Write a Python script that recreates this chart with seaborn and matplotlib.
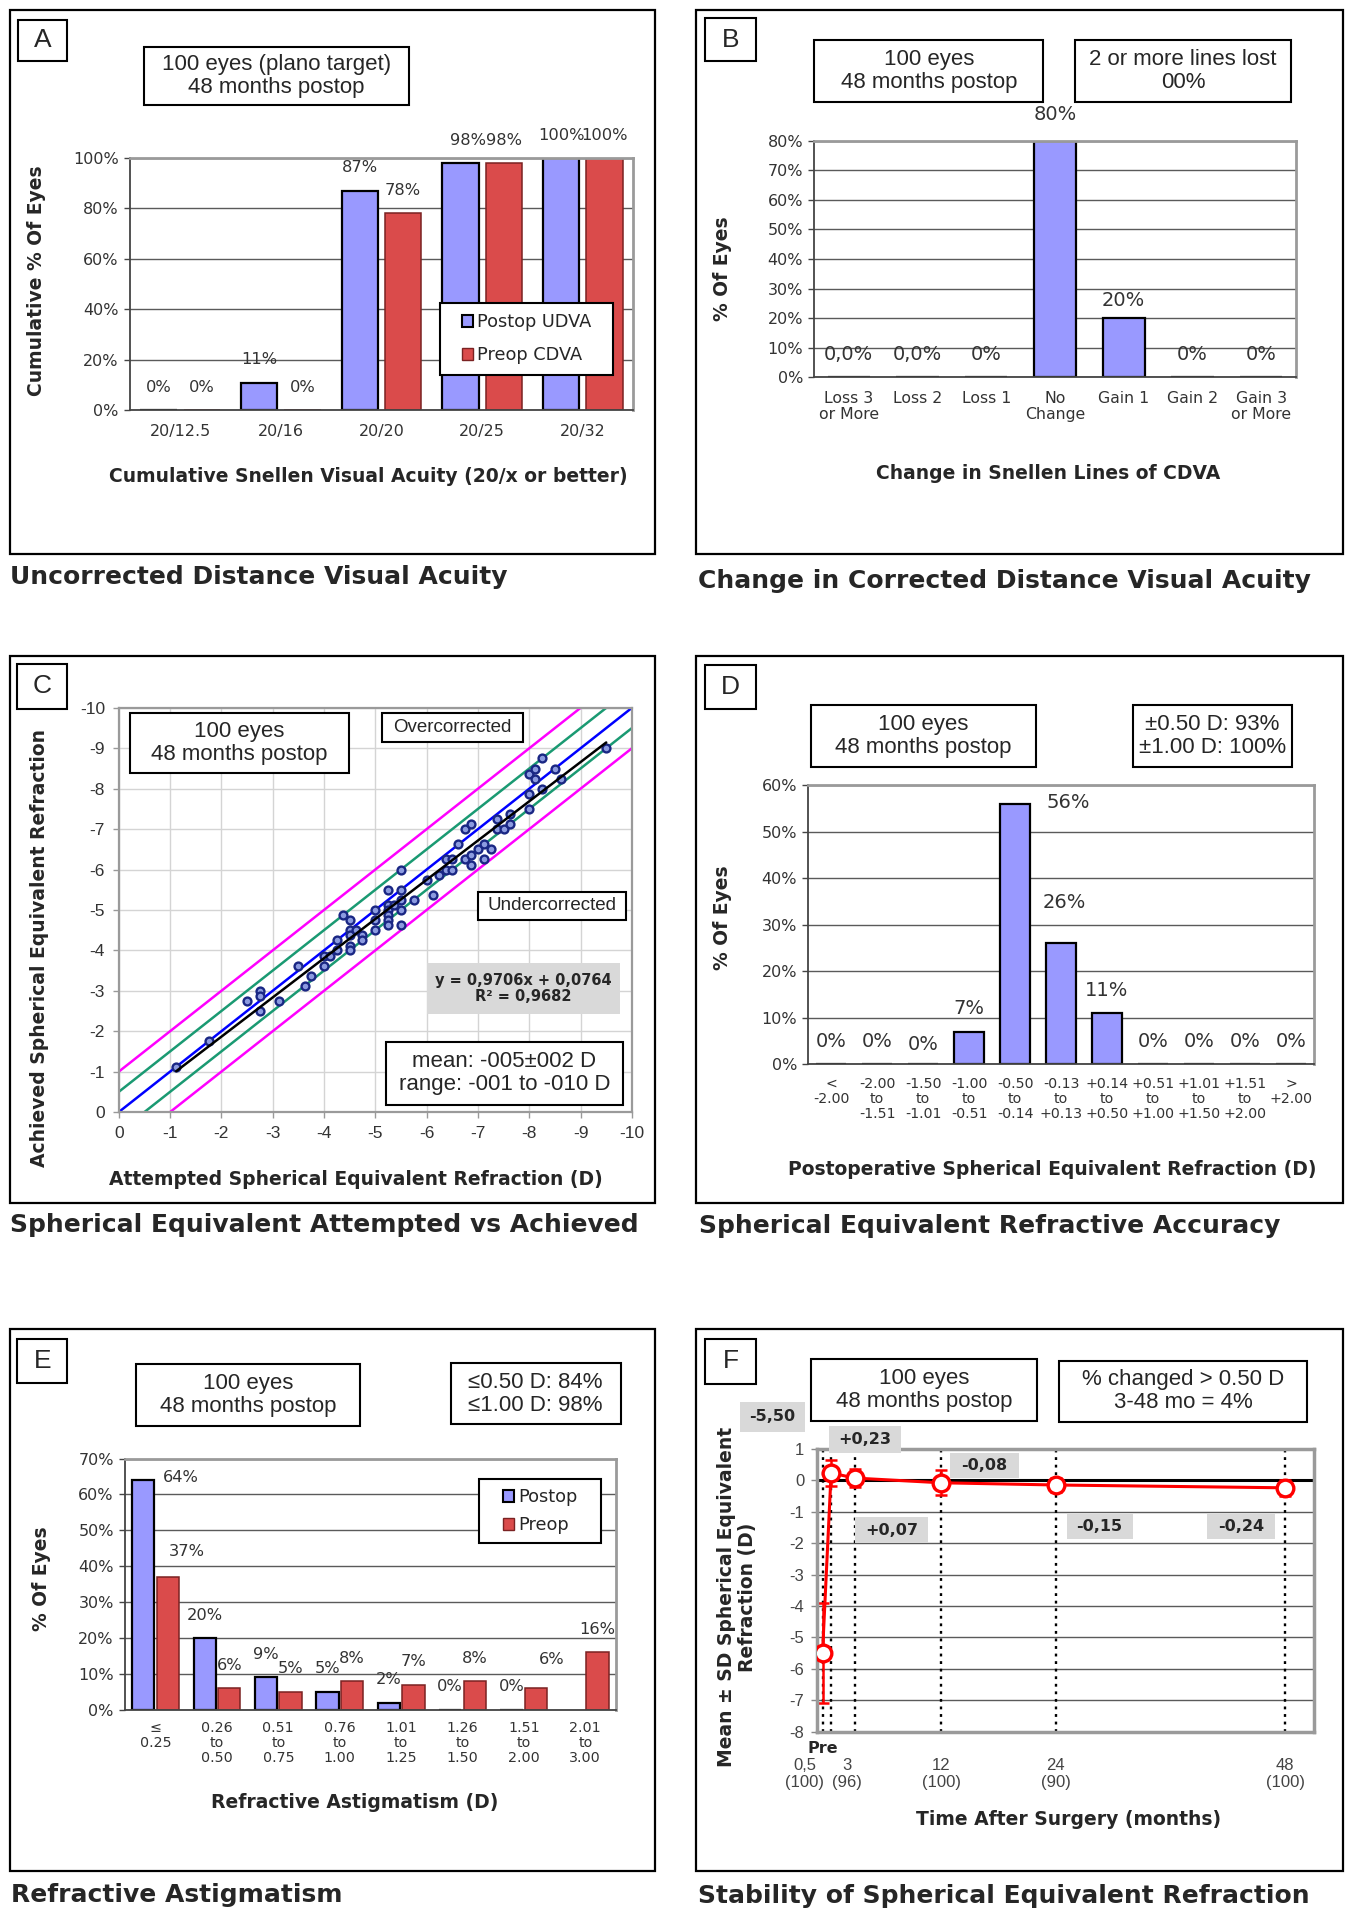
# -*- coding: utf-8 -*-
import numpy as np
import pandas as pd
import matplotlib
matplotlib.use('Agg')
import matplotlib.pyplot as plt
import matplotlib.transforms as mtransforms
from matplotlib.patches import Rectangle, Patch
import seaborn as sns
import warnings

warnings.filterwarnings('ignore')

# ===================== data =====================
# A - cumulative Snellen visual acuity
a_cats = ['20/12.5', '20/16', '20/20', '20/25', '20/32']
a_series = ['Postop UDVA', 'Preop CDVA']
a_postop = [0, 11, 87, 98, 100]
a_preop = [0, 0, 78, 98, 100]

# B - change in Snellen lines of CDVA
b_cats = ['Loss 3\nor More', 'Loss 2', 'Loss 1', 'No\nChange', 'Gain 1', 'Gain 2', 'Gain 3\nor More']
b_vals = [0, 0, 0, 80, 20, 0, 0]
b_texts = ['0,0%', '0,0%', '0%', '80%', '20%', '0%', '0%']

# C - attempted vs achieved spherical equivalent (D)
c_attempted = [-1.12, -1.75, -2.5, -2.75, -2.75, -2.75, -3.12, -3.5, -3.62, -3.75,
               -4.0, -4.0, -4.12, -4.25, -4.25, -4.37, -4.5, -4.5, -4.5, -4.5,
               -4.5, -4.62, -4.75, -4.75, -5.0, -5.0, -5.0, -5.25, -5.25, -5.25,
               -5.25, -5.25, -5.25, -5.37, -5.5, -5.5, -5.5, -5.5, -5.5, -5.75,
               -6.0, -6.12, -6.25, -6.37, -6.37, -6.5, -6.5, -6.62, -6.75, -6.75,
               -6.87, -6.87, -6.87, -7.0, -7.12, -7.12, -7.25, -7.37, -7.37, -7.5,
               -7.62, -7.62, -8.0, -8.0, -8.0, -8.12, -8.12, -8.25, -8.25, -8.5,
               -8.62, -9.5]
c_achieved = [-1.12, -1.75, -2.75, -3.0, -2.87, -2.5, -2.75, -3.62, -3.12, -3.37,
              -3.87, -3.62, -3.87, -4.25, -4.0, -4.87, -4.75, -4.5, -4.37, -4.12,
              -4.0, -4.5, -4.37, -4.25, -5.0, -4.75, -4.5, -5.5, -5.12, -5.0,
              -4.87, -4.75, -4.62, -5.12, -6.0, -5.5, -5.25, -5.0, -4.62, -5.25,
              -5.75, -5.37, -5.87, -6.0, -6.25, -6.0, -6.25, -6.62, -7.0, -6.25,
              -7.12, -6.37, -6.12, -6.5, -6.62, -6.25, -6.5, -7.25, -7.0, -7.0,
              -7.37, -7.12, -8.37, -7.87, -7.5, -8.5, -8.25, -8.75, -8.0, -8.5,
              -8.25, -9.0]
c_slope, c_intercept, c_r2 = 0.9706, 0.0764, 0.9682
c_bands = [-1.0, -0.5, 0.0, 0.5, 1.0]

# D - postoperative spherical equivalent refraction
d_cats = ['<\n-2.00', '-2.00\nto\n-1.51', '-1.50\nto\n-1.01', '-1.00\nto\n-0.51',
          '-0.50\nto\n-0.14', '-0.13\nto\n+0.13', '+0.14\nto\n+0.50', '+0.51\nto\n+1.00',
          '+1.01\nto\n+1.50', '+1.51\nto\n+2.00', '>\n+2.00']
d_vals = [0, 0, 0, 7, 56, 26, 11, 0, 0, 0, 0]

# E - refractive astigmatism
e_cats = ['\u2264\n0.25', '0.26\nto\n0.50', '0.51\nto\n0.75', '0.76\nto\n1.00',
          '1.01\nto\n1.25', '1.26\nto\n1.50', '1.51\nto\n2.00', '2.01\nto\n3.00']
e_series = ['Postop', 'Preop']
e_postop = [64, 20, 9, 5, 2, 0, 0, np.nan]
e_preop = [37, 6, 5, 8, 7, 8, 6, 16]

# F - stability of spherical equivalent refraction
f_time = [-0.4, 0.5, 3, 12, 24, 48]
f_mean = [-5.50, 0.23, 0.07, -0.08, -0.15, -0.24]
f_sd = [1.60, 0.40, 0.30, 0.40, 0.22, 0.25]
f_ticks = [0.5, 3, 12, 24, 48]
f_ticklabels = ['0,5\n(100)', '3\n(96)', '12\n(100)', '24\n(90)', '48\n(100)']

# ===================== style =====================
sns.set_style('white')
plt.rcParams['font.family'] = ['DejaVu Sans']
plt.rcParams['axes.unicode_minus'] = False
ARIAL = ['Liberation Sans', 'DejaVu Sans']

BLUE = '#9999FF'
RED = '#DA4B4B'
RED_EC = '#7A2222'
TXT = '#333333'

fig = plt.figure(figsize=(13.47, 19.13), dpi=100)
W, H = 1100.0, 1562.0   # layout grid (scaled reference units)


def fxy(x, y):
    return x / W, 1 - y / H


def add_ax(x0, y0, x1, y1):
    return fig.add_axes([x0 / W, 1 - y1 / H, (x1 - x0) / W, (y1 - y0) / H])


def box(x0, y0, x1, y1, text=None, fs=16, family=ARIAL, weight='normal',
        fc='white', ec='black', lw=1.5, ls=1.12):
    fig.add_artist(Rectangle((x0 / W, 1 - y1 / H), (x1 - x0) / W, (y1 - y0) / H,
                             transform=fig.transFigure, facecolor=fc, edgecolor=ec,
                             linewidth=lw, zorder=2))
    if text is not None:
        fig.text((x0 + x1) / 2 / W, 1 - (y0 + y1) / 2 / H, text, ha='center', va='center',
                 fontsize=fs, family=family, fontweight=weight, linespacing=ls, zorder=3)


def label(x, y, s, fs=13.5, rot=0, ha='center', ls=1.15):
    fig.text(x / W, 1 - y / H, s, ha=ha, va='center', rotation=rot, fontsize=fs,
             fontweight='bold', linespacing=ls, zorder=3)


def panel(rect, letter, lrect, title, txy):
    box(*rect, fc='none', lw=1.6)
    box(*lrect, text=letter, fs=19)
    label(txy[0], txy[1], title, fs=18, ha='left')


def style_bar_ax(ax, cats, ymax, ystep, xfs, xpad):
    n = len(cats)
    ax.set_xlim(-0.5, n - 0.5)
    ax.set_ylim(0, ymax)
    yt = list(range(0, ymax + 1, ystep))
    ax.set_yticks(yt, labels=[f'{t}%' for t in yt], fontsize=11.5, color=TXT)
    ax.set_xticks(range(n), labels=cats, fontsize=xfs, color=TXT, linespacing=1.1)
    ax.set_xticks(np.arange(n + 1) - 0.5, minor=True)
    ax.tick_params(axis='x', which='major', length=0, pad=xpad)
    ax.tick_params(axis='x', which='minor', length=5, width=1, color='#444', direction='out')
    ax.tick_params(axis='y', length=4, width=1, color='#444', pad=4, left=True)
    ax.yaxis.grid(True, color='#5A5A5A', lw=1)
    ax.set_axisbelow(True)
    for s in ['left', 'bottom']:
        ax.spines[s].set_color('#444')
        ax.spines[s].set_linewidth(1.3)
    for s in ['top', 'right']:
        ax.spines[s].set_color('#9A9A9A')
        ax.spines[s].set_linewidth(2)
    ax.set_xlabel('')
    ax.set_ylabel('')


def bar_values(ax, container, texts, offsets=None, fs=11.7):
    offsets = offsets or {}
    for i, (p, t) in enumerate(zip(container, texts)):
        h = p.get_height()
        if t is None or np.isnan(h):
            continue
        dx, dy = offsets.get(i, (0, 16.5))
        ax.annotate(t, (p.get_x() + p.get_width() / 2, h), xytext=(dx, dy),
                    textcoords='offset points', ha='center', va='center',
                    fontsize=fs, color=TXT, annotation_clip=False, zorder=4)


def pct(vals):
    return [None if np.isnan(v) else f'{v:.0f}%' for v in np.asarray(vals, float)]


# ===================== A =====================
panel((8, 8, 535, 452), 'A', (15, 16, 55, 50), 'Uncorrected Distance Visual Acuity', (8, 471))
box(118, 38, 334, 86, '100 eyes (plano target)\n48 months postop')
ax = add_ax(106, 129, 517, 335)
df_a = pd.DataFrame({'acuity': a_cats * 2, 'pct': a_postop + a_preop,
                     'series': [a_series[0]] * len(a_cats) + [a_series[1]] * len(a_cats)})
sns.barplot(data=df_a, x='acuity', y='pct', hue='series', palette=[BLUE, RED], saturation=1,
            width=0.86, gap=0.16, errorbar=None, legend=False, ax=ax, zorder=2)
for cont, ec, lw in zip(ax.containers, ['black', RED_EC], [1.6, 1.1]):
    for p in cont:
        p.set_edgecolor(ec)
        p.set_linewidth(lw)
style_bar_ax(ax, a_cats, 100, 20, 11.5, 10)
bar_values(ax, ax.containers[0], pct(a_postop), {3: (5.5, 16.5)})
bar_values(ax, ax.containers[1], pct(a_preop))
box(359, 247, 501, 306)
fig.legend(handles=[Patch(facecolor=BLUE, edgecolor='black', lw=1.5),
                    Patch(facecolor=RED, edgecolor=RED_EC, lw=1)],
           labels=a_series, loc='center', bbox_to_anchor=fxy(430, 276.5), frameon=False,
           fontsize=12.8, handlelength=0.65, handleheight=0.65, handletextpad=0.2,
           labelspacing=0.85)
label(301, 389, 'Cumulative Snellen Visual Acuity (20/x or better)')
label(30, 229, 'Cumulative % Of Eyes', rot=90)

# ===================== B =====================
panel((568, 8, 1097, 452), 'B', (576, 15, 617, 50), 'Change in Corrected Distance Visual Acuity', (570, 474))
box(665, 33, 852, 83, '100 eyes\n48 months postop')
box(878, 33, 1054, 83, '2 or more lines lost\n00%')
ax = add_ax(665, 115, 1058, 308)
sns.barplot(x=b_cats, y=b_vals, color=BLUE, saturation=1, width=0.615, errorbar=None,
            ax=ax, zorder=2, edgecolor='black', linewidth=1.6)
style_bar_ax(ax, b_cats, 80, 10, 11.3, 10)
bar_values(ax, ax.containers[0], b_texts, {3: (0, 19), 4: (0, 13)}, fs=14)
label(856, 387, 'Change in Snellen Lines of CDVA')
label(590, 219, '% Of Eyes', rot=90)

# ===================== C =====================
panel((8, 536, 535, 982), 'C', (14, 542, 55, 579), 'Spherical Equivalent Attempted vs Achieved', (8, 1000))
ax = add_ax(97, 578, 516, 908)
band_col = {1.0: '#FF00FF', 0.5: '#1A9A72', 0.0: '#0000FF'}
xs = np.array([1.0, -11.0])
for k in c_bands:
    ax.plot(xs, xs + k, color=band_col[abs(k)], lw=1.8, zorder=2)
sns.scatterplot(x=c_attempted, y=c_achieved, color='#8C9BE0', edgecolor='#1A2784',
                linewidth=1.7, s=32, zorder=3, ax=ax, legend=False)
fit_x = np.array([max(c_attempted), min(c_attempted)])
ax.plot(fit_x, c_slope * fit_x + c_intercept, color='black', lw=1.8, zorder=4)
ax.set_xlim(0, -10)
ax.set_ylim(0, -10)
ct = list(range(0, -11, -1))
ax.set_xticks(ct, labels=[str(t) for t in ct], family=ARIAL, fontsize=12.5, color=TXT)
ax.set_yticks(ct, labels=[str(t) for t in ct], family=ARIAL, fontsize=12.5, color=TXT)
ax.tick_params(length=4, width=1, color='#999', pad=6, left=True, bottom=True)
ax.grid(True, color='#D4D4D4', lw=1)
ax.set_axisbelow(True)
for s in ax.spines.values():
    s.set_color('#9A9A9A')
    s.set_linewidth(1.6)
box(106, 582, 285, 631, '100 eyes\n48 months postop')
box(312, 582, 427, 606, 'Overcorrected', fs=13.5)
box(390, 728, 511, 751, 'Undercorrected', fs=13.5)
box(349, 786, 506, 828, (f'y = {c_slope}x + {c_intercept}\nR\u00b2 = {c_r2}').replace('.', ','),
    fs=10.5, family=['DejaVu Sans'], weight='bold', fc='#D9D9D9', ec='none')
box(315, 851, 509, 902, 'mean: -005\u00b1002 D\nrange: -001 to -010 D')
label(291, 963, 'Attempted Spherical Equivalent Refraction (D)')
label(32, 774, 'Achieved Spherical Equivalent Refraction', rot=90)

# ===================== D =====================
panel((568, 536, 1097, 982), 'D', (576, 543, 617, 579), 'Spherical Equivalent Refractive Accuracy', (571, 1001))
box(662, 576, 846, 626, '100 eyes\n48 months postop')
box(925, 576, 1055, 626, '\u00b10.50 D: 93%\n\u00b11.00 D: 100%')
ax = add_ax(660, 641, 1073, 869)
sns.barplot(x=d_cats, y=d_vals, color=BLUE, saturation=1, width=0.65, errorbar=None,
            ax=ax, zorder=2, edgecolor='black', linewidth=1.6)
style_bar_ax(ax, d_cats, 60, 10, 10.2, 9)
bar_values(ax, ax.containers[0], pct(d_vals), {2: (0, 14.3), 4: (38, 1), 5: (2, 29)}, fs=14)
label(859, 955, 'Postoperative Spherical Equivalent Refraction (D)')
label(590, 749, '% Of Eyes', rot=90)

# ===================== E =====================
panel((8, 1085, 535, 1528), 'E', (14, 1093, 55, 1129), 'Refractive Astigmatism', (9, 1547))
box(111, 1114, 294, 1164, '100 eyes\n48 months postop')
box(368, 1113, 507, 1163, '\u22640.50 D: 84%\n\u22641.00 D: 98%')
ax = add_ax(102, 1191, 503, 1396)
df_e = pd.DataFrame({'range': e_cats * 2, 'pct': e_postop + e_preop,
                     'series': [e_series[0]] * len(e_cats) + [e_series[1]] * len(e_cats)})
sns.barplot(data=df_e, x='range', y='pct', hue='series', palette=[BLUE, RED], saturation=1,
            width=0.8, gap=0.09, errorbar=None, legend=False, ax=ax, zorder=2)
for cont, ec, lw in zip(ax.containers, ['black', RED_EC], [1.6, 1.1]):
    for p in cont:
        p.set_edgecolor(ec)
        p.set_linewidth(lw)
style_bar_ax(ax, e_cats, 70, 10, 10.3, 8)
bar_values(ax, ax.containers[0], pct(e_postop), {0: (27, 2)})
bar_values(ax, ax.containers[1], pct(e_preop), {0: (13.5, 18.5), 6: (11, 21)})
box(391, 1208, 491, 1260)
fig.legend(handles=[Patch(facecolor=BLUE, edgecolor='black', lw=1.5),
                    Patch(facecolor=RED, edgecolor=RED_EC, lw=1)],
           labels=e_series, loc='center', bbox_to_anchor=fxy(441, 1234), frameon=False,
           fontsize=12.8, handlelength=0.65, handleheight=0.65, handletextpad=0.2,
           labelspacing=0.55)
label(290, 1472, 'Refractive Astigmatism (D)')
label(34, 1289, '% Of Eyes', rot=90)

# ===================== F =====================
panel((568, 1085, 1097, 1528), 'F', (576, 1093, 617, 1130), 'Stability of Spherical Equivalent Refraction', (570, 1548))
box(662, 1110, 847, 1160, '100 eyes\n48 months postop')
box(865, 1111, 1067, 1161, '% changed > 0.50 D\n3-48 mo = 4%')
ax = add_ax(667, 1183, 1073, 1414)
for t in f_time:
    ax.axvline(t, color='black', ls=(0, (1.2, 2.0)), lw=1.7, zorder=1.5)
ax.axhline(0, color='black', lw=2.2, zorder=1.6)
ax.errorbar(f_time, f_mean, yerr=f_sd, fmt='none', ecolor='red', elinewidth=1.8,
            capsize=4.5, capthick=1.8, zorder=2)
sns.lineplot(x=f_time, y=f_mean, color='red', lw=2.2, marker='o', markersize=12,
             markerfacecolor='white', markeredgecolor='red', markeredgewidth=2.4,
             zorder=3, ax=ax)
ax.set_xlim(-1, 51)
ax.set_ylim(-8, 1)
ft = list(range(-8, 2))
ax.set_yticks(ft, labels=[str(t) for t in ft], family=ARIAL, fontsize=12, color='#444')
ax.set_xticks(f_ticks, labels=f_ticklabels, family=ARIAL, fontsize=12, color='#444',
              linespacing=1.15)
ax.tick_params(axis='x', length=0, pad=19)
ax.tick_params(axis='y', length=4, width=1, color='#888', pad=5, left=True)
xl = ax.get_xticklabels()
for lab, sh in zip(xl[:2], [-19, -6]):
    lab.set_transform(lab.get_transform() + mtransforms.ScaledTranslation(sh / 72, 0, fig.dpi_scale_trans))
ax.text(f_time[0], -0.06, 'Pre', transform=mtransforms.blended_transform_factory(ax.transData, ax.transAxes),
        ha='center', va='center', fontsize=11.5, fontweight='bold')
ax.yaxis.grid(True, color='#5A5A5A', lw=1)
ax.set_axisbelow(True)
for s in ax.spines.values():
    s.set_color('#9A9A9A')
    s.set_linewidth(2.5)
ax.set_xlabel('')
ax.set_ylabel('')
f_boxes = [(604, 1145, 657, 1169), (677, 1164, 736, 1186), (698, 1239, 758, 1260),
           (776, 1186, 832, 1207), (871, 1236, 925, 1257), (986, 1236, 1041, 1257)]
for v, rect in zip(f_mean, f_boxes):
    box(*rect, f'{v:+.2f}'.replace('.', ','), fs=11.5, family=['DejaVu Sans'],
        weight='bold', fc='#D9D9D9', ec='none')
label(873, 1486, 'Time After Surgery (months)')
label(602, 1304, 'Mean \u00b1 SD Spherical Equivalent\nRefraction (D)', rot=90, ls=1.1)

fig.savefig('out.png', dpi=100, facecolor='white')
